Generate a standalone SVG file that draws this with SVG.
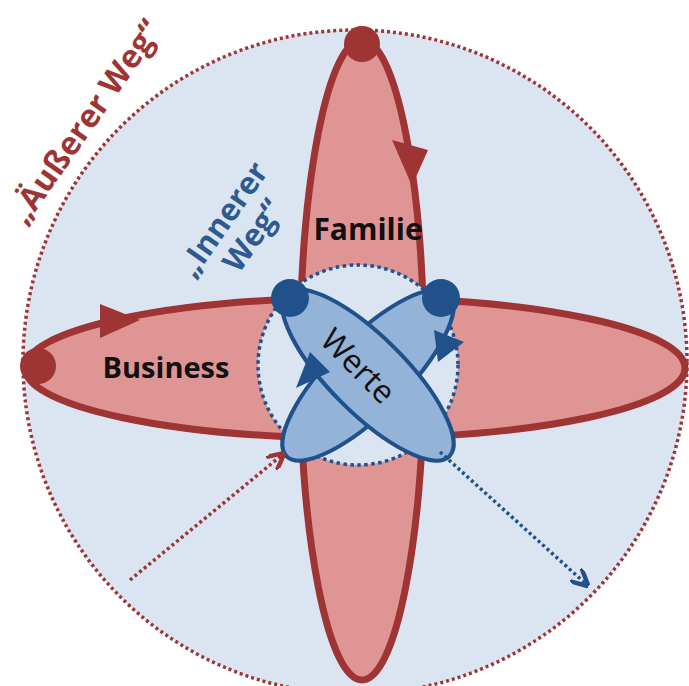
<svg xmlns="http://www.w3.org/2000/svg" width="689" height="686" viewBox="0 0 689 686">
<style>
.red{fill:#df9594;stroke:#9e3433;stroke-width:7}
.blue{fill:#93b3d8;stroke:#21518a;stroke-width:4}
.t{font-family:"Open Sans","Liberation Sans",sans-serif;font-weight:bold}
</style>
<defs>
<marker id="ar" viewBox="0 0 10 10" refX="8" refY="5" markerWidth="5" markerHeight="5" orient="auto"><path d="M0,0 L10,5 L0,10" fill="none" stroke="#9e3433" stroke-width="2.5"/></marker>
<marker id="ab" viewBox="0 0 10 10" refX="8" refY="5" markerWidth="5" markerHeight="5" orient="auto"><path d="M0,0 L10,5 L0,10" fill="none" stroke="#21518a" stroke-width="2.5"/></marker>
</defs>
<rect width="689" height="686" fill="#fff"/>
<g id="outer"><circle cx="355" cy="362" r="332" fill="#dbe4f1" stroke="#9e3433" stroke-width="3.5" stroke-dasharray="3 3"/></g>
<g id="business"><ellipse class="red" cx="355" cy="368" rx="330" ry="70"/></g>
<g id="familie"><ellipse class="red" cx="362" cy="360" rx="62" ry="320"/></g>
<g id="inner"><circle cx="358" cy="365" r="100" fill="#dbe4f1" stroke="#21518a" stroke-width="3.5" stroke-dasharray="3.5 3.5"/></g>
<g id="werte">
<ellipse class="blue" cx="368" cy="375" rx="115" ry="38" transform="rotate(-45 368 375)"/>
<ellipse class="blue" cx="368" cy="375" rx="115" ry="38" transform="rotate(45 368 375)"/>
<text x="0" y="11" font-family="'Open Sans','Liberation Sans',sans-serif" font-size="32" fill="#111" text-anchor="middle" transform="translate(358 366) rotate(45)">Werte</text>
</g>
<g id="markers">
<circle cx="362" cy="44" r="18" fill="#9e3433"/>
<circle cx="38" cy="366" r="18" fill="#9e3433"/>
<circle cx="290" cy="298" r="19" fill="#21518a"/>
<circle cx="441" cy="298" r="19" fill="#21518a"/>
<polygon points="392,140 428,150 412,186" fill="#9e3433"/>
<polygon points="100,304 140,320 100,338" fill="#9e3433"/>
<polygon points="296,388 310,352 330,372" fill="#21518a"/>
<polygon points="434,330 464,342 438,362" fill="#21518a"/>
</g>
<g id="connectors">
<line x1="130" y1="580" x2="282" y2="455" stroke="#9e3433" stroke-width="3.5" stroke-dasharray="3 3" marker-end="url(#ar)"/>
<line x1="440" y1="452" x2="586" y2="584" stroke="#21518a" stroke-width="3.5" stroke-dasharray="3 3" marker-end="url(#ab)"/>
</g>
<g id="labels">
<text class="t" x="368" y="240" font-size="30" fill="#111" text-anchor="middle">Familie</text>
<text class="t" x="166" y="378" font-size="29" fill="#111" text-anchor="middle">Business</text>
<text class="t" font-size="32" fill="#9e3433" text-anchor="middle" transform="translate(94 128) rotate(-55)">„Äußerer Weg“</text>
<g transform="translate(238 230) rotate(-55)" class="t" font-size="31" fill="#2e5a8f" text-anchor="middle"><text x="0" y="-8">„Innerer</text><text x="4" y="26">Weg“</text></g>
</g>
</svg>
